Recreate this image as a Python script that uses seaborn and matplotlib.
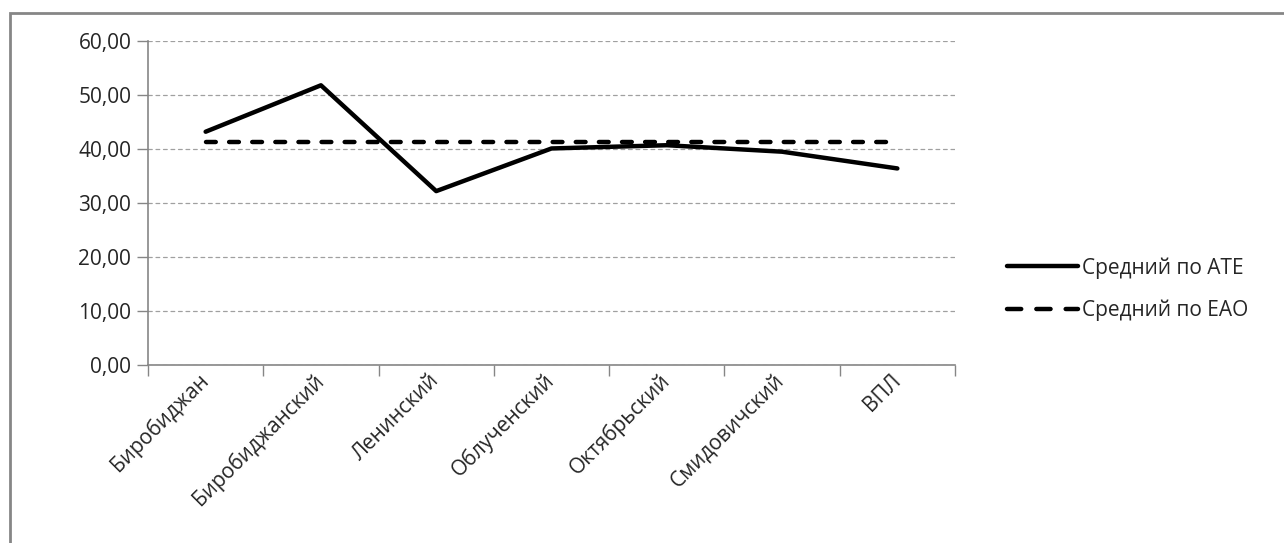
import numpy as np
import pandas as pd
import matplotlib
matplotlib.use("Agg")
import matplotlib.pyplot as plt
import matplotlib.transforms as mtransforms
import seaborn as sns
from matplotlib.patches import Rectangle
from matplotlib.lines import Line2D

# data
districts = ["Биробиджан", "Биробиджанский", "Ленинский", "Облученский",
             "Октябрьский", "Смидовичский", "ВПЛ"]
ate_values = [43.2, 51.8, 32.2, 40.1, 40.7, 39.5, 36.4]
eao_values = [41.35] * 7
yticks = [0, 10, 20, 30, 40, 50, 60]

sns.set_style("white")
plt.rcParams["font.family"] = ["Open Sans", "DejaVu Sans"]
plt.rcParams["lines.dash_capstyle"] = "round"

df = pd.DataFrame({
    "pos": list(range(len(districts))) * 2,
    "value": ate_values + eao_values,
    "series": ["Средний по АТЕ"] * 7 + ["Средний по ЕАО"] * 7,
})

fig = plt.figure(figsize=(12.84, 5.43), dpi=100)
ax = fig.add_axes([148 / 1284, 1 - 365 / 543, (955 - 148) / 1284, (365 - 41) / 543])

dash = (2.2, 3.0)
sns.lineplot(data=df, x="pos", y="value", style="series", color="black",
             linewidth=3.2, dashes={"Средний по АТЕ": "", "Средний по ЕАО": dash},
             ax=ax, legend=False)

ax.set_xlim(-0.5, len(districts) - 0.5)
ax.set_ylim(0, 60)
ax.set_yticks(yticks)
ax.set_yticklabels([f"{v:.2f}".replace(".", ",") for v in yticks], fontsize=15)
ax.yaxis.grid(True, linestyle=(0, (3, 3)), color="#a0a0a0", linewidth=0.9)
ax.set_axisbelow(True)

ax.set_xticks(np.arange(-0.5, len(districts)), minor=False)
ax.set_xticklabels([])
ax.set_xticks(range(len(districts)), minor=True)
ax.set_xticklabels(districts, minor=True, rotation=45, ha="right", va="center",
                   rotation_mode="anchor", fontsize=15)
shift = mtransforms.ScaledTranslation(22 / 100, 0, fig.dpi_scale_trans)
for lbl in ax.get_xticklabels(minor=True):
    lbl.set_transform(lbl.get_transform() + shift)
ax.tick_params(axis="x", which="major", bottom=True, direction="out", length=8,
               color="#868686", width=1)
ax.tick_params(axis="x", which="minor", bottom=True, length=0, pad=9)
ax.tick_params(axis="y", left=True, direction="out", length=8, color="#868686",
               width=1, pad=4)
ax.set_xlabel("")
ax.set_ylabel("")

for side in ["top", "right"]:
    ax.spines[side].set_visible(False)
for side in ["left", "bottom"]:
    ax.spines[side].set_color("#868686")
    ax.spines[side].set_linewidth(1.2)

handles = [Line2D([], [], color="black", linewidth=3.2),
           Line2D([], [], color="black", linewidth=3.2, dashes=(3.2, 3.4))]
fig.legend(handles, ["Средний по АТЕ", "Средний по ЕАО"], loc="center left",
           bbox_to_anchor=(988 / 1284, 1 - 289 / 543), frameon=False, fontsize=15,
           handlelength=3.4, handletextpad=0.2, labelspacing=1.0)

fig.patches.append(Rectangle((10 / 1284, -0.05), 1.1, 1 - 13 / 543 + 0.05,
                             transform=fig.transFigure, fill=False,
                             edgecolor="#868686", linewidth=2))

fig.savefig("out.png", dpi=100)
